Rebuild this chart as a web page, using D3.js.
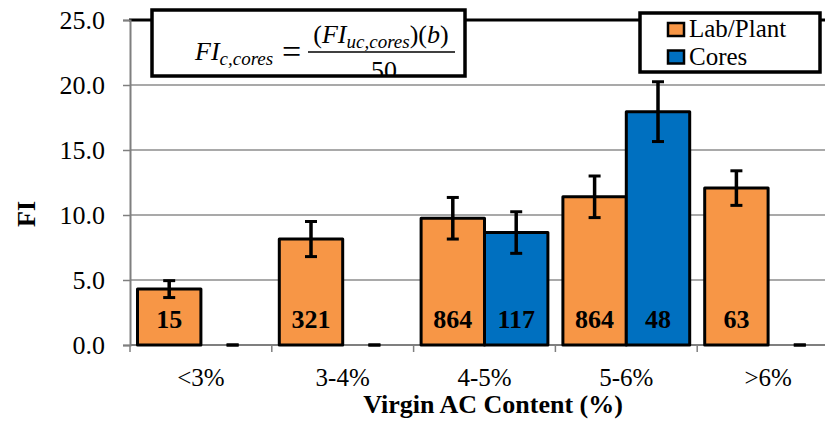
<!DOCTYPE html>
<html><head><meta charset="utf-8">
<script src="https://cdn.jsdelivr.net/npm/d3@7"></script>
<style>body{margin:0;background:#fff}svg{display:block;font-family:"Liberation Serif","Times New Roman",serif}</style>
</head><body><svg id="c" width="825" height="423"></svg>
<script>
const categories = ["<3%","3-4%","4-5%","5-6%",">6%"];
const seriesNames = ["Lab/Plant","Cores"];
const labPlant = [4.3, 8.15, 9.75, 11.4, 12.07];
const labPlantErr = [0.65, 1.35, 1.6, 1.6, 1.33];
const labPlantN = ["15","321","864","864","63"];
const cores = [0, 0, 8.65, 17.95, 0];
const coresErr = [0, 0, 1.6, 2.3, 0];
const coresN = ["","","117","48",""];
const yTicks = [0,5,10,15,20,25];
const colors = ["#F79646","#0070C0"];

const svg = d3.select("#c");
const mLeft = 130, mBottom = 345, mTop = 20;
const y = d3.scaleLinear().domain([0,25]).range([mBottom, mTop]);
const x = d3.scaleBand().domain(categories).range([mLeft, mLeft + 5*141.8]).paddingInner(0).paddingOuter(0);
const x1 = d3.scaleBand().domain(seriesNames).range([7.5, x.bandwidth()-7.5]).padding(0);

// gridlines
svg.append("g").selectAll("line").data(yTicks.filter(t=>t>0 && t<25)).join("line")
  .attr("x1", mLeft).attr("x2", 825).attr("y1", d=>y(d)).attr("y2", d=>y(d))
  .attr("stroke", "#8c8c8c").attr("stroke-width", 1.5);
// top line
svg.append("line").attr("x1", mLeft-1).attr("x2", 825).attr("y1", y(25)).attr("y2", y(25))
  .attr("stroke", "#000").attr("stroke-width", 3);

// y axis
const yAxis = d3.axisLeft(y).tickValues(yTicks).tickFormat(d3.format(".1f")).tickSize(7).tickPadding(18);
const gy = svg.append("g").attr("transform", `translate(${mLeft},0)`).call(yAxis);
gy.attr("font-family", "Liberation Serif");
gy.select(".domain").attr("stroke", "#7f7f7f").attr("stroke-width", 2);
gy.selectAll(".tick line").attr("stroke", "#7f7f7f").attr("stroke-width", 1.5);
gy.selectAll(".tick text").attr("font-family", "Liberation Serif").attr("font-size", 26).attr("fill", "#000").attr("dy", "0.33em");

// x axis
const xAxis = d3.axisBottom(x).tickSize(0);
const gx = svg.append("g").attr("transform", `translate(0,${mBottom})`).call(xAxis);
gx.attr("font-family", "Liberation Serif");
gx.select(".domain").remove();
gx.selectAll(".tick text").attr("font-family", "Liberation Serif").attr("font-size", 25).attr("fill", "#000").attr("dy", 0).attr("y", 41);
svg.append("line").attr("x1", mLeft).attr("x2", 825).attr("y1", mBottom).attr("y2", mBottom).attr("stroke", "#7f7f7f").attr("stroke-width", 2);
svg.append("g").selectAll("line").data(categories).join("line")
  .attr("x1", d=>x(d)).attr("x2", d=>x(d)).attr("y1", mBottom).attr("y2", mBottom+7)
  .attr("stroke", "#7f7f7f").attr("stroke-width", 1.5);

// bars
const series = [
  {name: seriesNames[0], vals: labPlant, err: labPlantErr, n: labPlantN, color: colors[0]},
  {name: seriesNames[1], vals: cores, err: coresErr, n: coresN, color: colors[1]}
];
series.forEach(s => {
  const g = svg.append("g");
  const data = categories.map((c,i)=>({c, v: s.vals[i], e: s.err[i], n: s.n[i]}));
  g.selectAll("rect").data(data.filter(d=>d.v>0)).join("rect")
    .attr("x", d=>x(d.c)+x1(s.name)).attr("width", x1.bandwidth())
    .attr("y", d=>y(d.v)).attr("height", d=>y(0)-y(d.v))
    .attr("fill", s.color).attr("stroke", "#000").attr("stroke-width", 3).attr("stroke-linejoin","round");
  const cx = d=>x(d.c)+x1(s.name)+x1.bandwidth()/2;
  g.selectAll("line.eb").data(data).join("line").attr("class","eb")
    .attr("x1", cx).attr("x2", cx).attr("y1", d=>y(d.v+d.e)).attr("y2", d=>y(d.v-d.e))
    .attr("stroke", "#000").attr("stroke-width", 3.5);
  [1,-1].forEach(sg => {
    g.selectAll("line.cap"+(sg>0?"u":"d")).data(data).join("line").attr("class","cap"+(sg>0?"u":"d"))
      .attr("x1", d=>cx(d)-6).attr("x2", d=>cx(d)+6)
      .attr("y1", d=>y(Math.max(0,d.v+sg*d.e))).attr("y2", d=>y(Math.max(0,d.v+sg*d.e)))
      .attr("stroke", "#000").attr("stroke-width", 3);
  });
  g.selectAll("text").data(data.filter(d=>d.n)).join("text")
    .attr("x", cx).attr("y", 328).attr("text-anchor","middle")
    .attr("font-family","Liberation Serif").attr("font-weight","bold").attr("font-size",26)
    .text(d=>d.n);
});

// axis titles
svg.append("text").attr("transform","translate(35,214) rotate(-90)").attr("text-anchor","middle")
  .attr("font-family","Liberation Serif").attr("font-weight","bold").attr("font-size",26).text("FI");
svg.append("text").attr("x",493).attr("y",413).attr("text-anchor","middle")
  .attr("font-family","Liberation Serif").attr("font-weight","bold").attr("font-size",26).text("Virgin AC Content (%)");

// formula box
const defs = svg.append("defs");
defs.append("clipPath").attr("id","fclip").append("rect").attr("x",152).attr("y",10).attr("width",313).attr("height",66);
svg.append("rect").attr("x",152).attr("y",10).attr("width",313).attr("height",66).attr("fill","#fff");
const fg = svg.append("g").attr("clip-path","url(#fclip)").attr("font-family","Liberation Serif");
const t1 = fg.append("text").attr("x",195).attr("y",60).attr("font-size",26).attr("font-style","italic");
t1.append("tspan").text("FI");
t1.append("tspan").attr("font-size",19).attr("dy",5).text("c,cores");
fg.append("text").attr("x",282).attr("y",63).attr("font-size",34).text("=");
const t2 = fg.append("text").attr("x",381).attr("y",43).attr("font-size",26).attr("text-anchor","middle");
t2.append("tspan").text("(");
t2.append("tspan").attr("font-style","italic").text("FI");
t2.append("tspan").attr("font-style","italic").attr("font-size",19).attr("dy",5).text("uc,cores");
t2.append("tspan").attr("dy",-5).text(")(");
t2.append("tspan").attr("font-style","italic").text("b");
t2.append("tspan").text(")");
fg.append("line").attr("x1",308).attr("x2",455).attr("y1",52).attr("y2",52).attr("stroke","#000").attr("stroke-width",1.3);
fg.append("text").attr("x",384).attr("y",79).attr("font-size",26).attr("text-anchor","middle").text("50");
svg.append("rect").attr("x",152).attr("y",10).attr("width",313).attr("height",66).attr("fill","none").attr("stroke","#000").attr("stroke-width",3.5);

// legend
const lg = svg.append("g").attr("font-family","Liberation Serif");
lg.append("rect").attr("x",640).attr("y",13).attr("width",180).attr("height",59).attr("fill","#fff").attr("stroke","#000").attr("stroke-width",3.5);
seriesNames.forEach((nm,i)=>{
  lg.append("rect").attr("x",668).attr("y",23+i*27.5).attr("width",16).attr("height",13)
    .attr("fill",colors[i]).attr("stroke","#000").attr("stroke-width",2.5);
  lg.append("text").attr("x",689).attr("y",37+i*28).attr("font-size",25).text(nm);
});
</script></body></html>
